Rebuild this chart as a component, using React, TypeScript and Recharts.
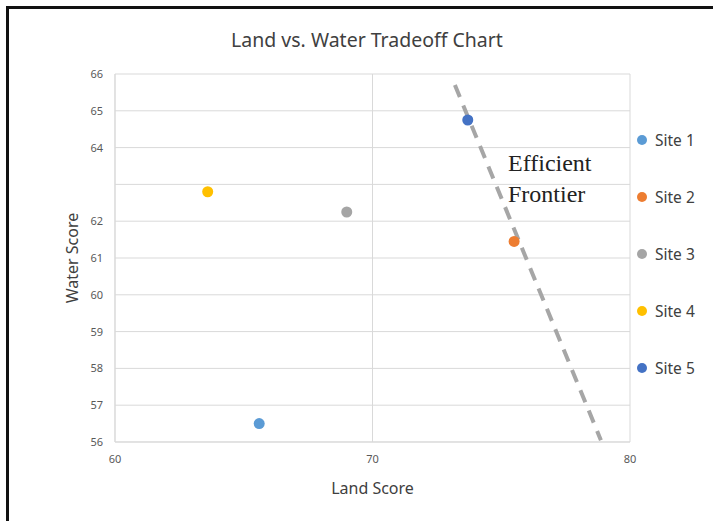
import {
  ScatterChart,
  Scatter,
  XAxis,
  YAxis,
  CartesianGrid,
  ReferenceLine,
} from 'recharts';

const SITE_NAMES = ['Site 1', 'Site 2', 'Site 3', 'Site 4', 'Site 5'];
const SITE_COLORS = ['#5b9bd5', '#ed7d31', '#a5a5a5', '#ffc000', '#4472c4'];
const LAND_SCORES = [65.6, 75.5, 69.0, 63.6, 73.7];
const WATER_SCORES = [56.5, 61.45, 62.25, 62.8, 64.75];

const X_TICKS = [60, 70, 80];
const Y_TICKS = [56, 57, 58, 59, 60, 61, 62, 63, 64, 65, 66];
// 63 has a gridline but no label
const HIDDEN_Y_LABELS = [63];

const FRONTIER = [
  { x: 73.2, y: 65.7 },
  { x: 78.87, y: 56.05 },
];

const FONT = '"Noto Sans", "Open Sans", sans-serif';
const GRID = '#d9d9d9';
const TICK = { fontSize: 11, fill: '#595959', fontFamily: FONT };

const sites = SITE_NAMES.map((name, i) => ({
  name,
  color: SITE_COLORS[i],
  points: [{ x: LAND_SCORES[i], y: WATER_SCORES[i] }],
}));

const Dot = (props: any) => (
  <circle cx={props.cx} cy={props.cy} r={5.5} fill={props.fill} />
);

const SiteLegend = () => (
  <div
    style={{
      position: 'absolute',
      left: 637,
      top: 111,
      fontFamily: FONT,
      fontSize: 15.5,
      color: '#404040',
    }}
  >
    {sites.map((s) => (
      <div key={s.name} style={{ display: 'flex', alignItems: 'center', height: 57 }}>
        <span
          style={{
            width: 10,
            height: 10,
            borderRadius: 5,
            background: s.color,
            marginRight: 8,
          }}
        />
        {s.name}
      </div>
    ))}
  </div>
);

export default function App() {
  return (
    <div style={{ position: 'relative', width: 713, height: 521, background: '#fff', overflow: 'hidden' }}>
      <style>{'body{margin:0}'}</style>
      <div
        style={{
          position: 'absolute',
          left: 6,
          top: 6,
          width: 707,
          height: 515,
          borderTop: '3px solid #111',
          borderLeft: '3px solid #111',
          pointerEvents: 'none',
        }}
      />
      <div
        style={{
          position: 'absolute',
          top: 26,
          left: 0,
          width: 713,
          paddingLeft: 21,
          boxSizing: 'border-box',
          textAlign: 'center',
          fontFamily: FONT,
          fontSize: 19.5,
          color: '#404040',
        }}
      >
        Land vs. Water Tradeoff Chart
      </div>
      <ScatterChart
        width={713}
        height={521}
        margin={{ top: 74, right: 83, bottom: 19, left: 55 }}
      >
        <CartesianGrid stroke={GRID} />
        <XAxis
          type="number"
          dataKey="x"
          domain={[60, 80]}
          ticks={X_TICKS}
          tick={TICK}
          tickSize={0}
          tickMargin={13}
          stroke={GRID}
          height={60}
          label={{
            value: 'Land Score',
            position: 'insideBottom',
            offset: 8,
            style: { fontSize: 16, fill: '#404040', fontFamily: FONT },
          }}
        />
        <YAxis
          type="number"
          dataKey="y"
          domain={[56, 66]}
          ticks={Y_TICKS}
          interval={0}
          tick={TICK}
          tickFormatter={(v: number) => (HIDDEN_Y_LABELS.includes(v) ? '' : String(v))}
          tickSize={0}
          tickMargin={12}
          stroke={GRID}
          width={60}
          label={{
            value: 'Water Score',
            angle: -90,
            position: 'insideLeft',
            offset: 17,
            style: { fontSize: 16, fill: '#404040', fontFamily: FONT, textAnchor: 'middle' },
          }}
        />
        <ReferenceLine
          segment={FRONTIER}
          stroke="#a6a6a6"
          strokeWidth={4}
          strokeDasharray="13 9"
          ifOverflow="visible"
        />
        {sites.map((s) => (
          <Scatter
            key={s.name}
            name={s.name}
            data={s.points}
            fill={s.color}
            shape={Dot}
            isAnimationActive={false}
          />
        ))}
      </ScatterChart>
      <SiteLegend />
      <div
        style={{
          position: 'absolute',
          left: 508,
          top: 148,
          fontFamily: '"Liberation Serif", serif',
          fontSize: 24,
          lineHeight: '31px',
          color: '#222',
        }}
      >
        Efficient
        <br />
        Frontier
      </div>
    </div>
  );
}
